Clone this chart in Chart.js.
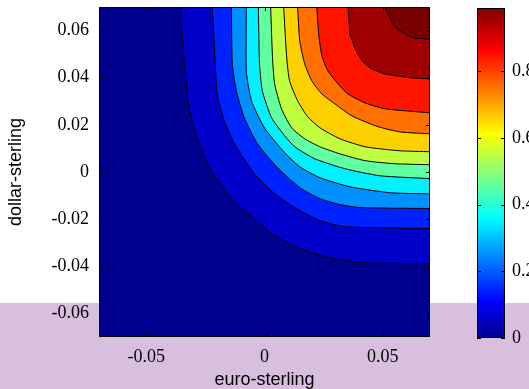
<!DOCTYPE html>
<html lang="en">
<head>
<meta charset="UTF-8">
<title>euro-sterling / dollar-sterling contour</title>
<script src="https://cdn.jsdelivr.net/npm/chart.js"></script>
<style>
  html, body { margin: 0; padding: 0; overflow: hidden; background: #fff; }
  body { width: 529px; height: 389px; position: relative; }
  #band { position: absolute; left: 0; top: 303px; width: 529px; height: 86px; background: #d8bfdd; }
  canvas { position: absolute; top: 0; }
  #contour { left: 0; }
  #cbar { left: 440px; }
</style>
</head>
<body>
<div id="band"></div>
<canvas id="contour" width="460" height="389"></canvas>
<canvas id="cbar" width="100" height="389"></canvas>
<script>
// contour lines, [euro-sterling, dollar-sterling], lowest level first
var level1 = [[-0.0353, 0.07], [-0.0349, 0.0586], [-0.0336, 0.0429], [-0.0319, 0.0272], [-0.0277, 0.0120],
              [-0.0226, 0.0006], [-0.0157, -0.0092], [-0.0072, -0.0177], [0.0043, -0.0270], [0.0170, -0.0334],
              [0.0298, -0.0368], [0.0417, -0.0385], [0.07, -0.0389]];
var level2 = [[-0.0221, 0.07], [-0.0213, 0.0556], [-0.0200, 0.0331], [-0.0170, 0.0217], [-0.0128, 0.0120],
              [-0.0043, -0.0007], [0.0043, -0.0092], [0.0149, -0.0164], [0.0234, -0.0206], [0.0340, -0.0232],
              [0.07, -0.0240]];
var level3 = [[-0.0140, 0.07], [-0.0136, 0.0459], [-0.0119, 0.0344], [-0.0085, 0.0229], [-0.0030, 0.0120],
              [0.0055, 0.0018], [0.0149, -0.0066], [0.0234, -0.0113], [0.0319, -0.0138], [0.0404, -0.0151],
              [0.07, -0.0155]];
var level4 = [[-0.0077, 0.07], [-0.0077, 0.0429], [-0.0055, 0.0302], [0.0000, 0.0187], [0.0085, 0.0082],
              [0.0149, 0.0022], [0.0234, -0.0024], [0.0362, -0.0063], [0.0532, -0.0088], [0.07, -0.0093]];
var level5 = [[-0.0026, 0.07], [-0.0021, 0.0459], [-0.0009, 0.0344], [0.0030, 0.0230], [0.0085, 0.0154],
              [0.0128, 0.0107], [0.0213, 0.0056], [0.0340, 0.0014], [0.0489, -0.0016], [0.07, -0.0028]];
var level6 = [[0.0026, 0.07], [0.0034, 0.0484], [0.0043, 0.0373], [0.0072, 0.0268], [0.0115, 0.0187],
              [0.0170, 0.0141], [0.0234, 0.0107], [0.0319, 0.0077], [0.0426, 0.0048], [0.0553, 0.0035],
              [0.07, 0.0031]];
var level7 = [[0.0081, 0.07], [0.0094, 0.0484], [0.0106, 0.0387], [0.0140, 0.0302], [0.0183, 0.0234],
              [0.0234, 0.0188], [0.0319, 0.0141], [0.0426, 0.0107], [0.0574, 0.0090], [0.07, 0.0086]];
var level8 = [[0.0140, 0.07], [0.0149, 0.0556], [0.0170, 0.0459], [0.0200, 0.0387], [0.0243, 0.0331],
              [0.0298, 0.0289], [0.0370, 0.0238], [0.0481, 0.0192], [0.0574, 0.0170], [0.07, 0.0162]];
var level9 = [[0.0221, 0.07], [0.0230, 0.0577], [0.0243, 0.0492], [0.0268, 0.0429], [0.0311, 0.0374],
              [0.0353, 0.0331], [0.0426, 0.0293], [0.0511, 0.0268], [0.07, 0.0251]];
var level10 = [[0.0353, 0.07], [0.0362, 0.0586], [0.0383, 0.0526], [0.0413, 0.0471], [0.0455, 0.0437],
               [0.0511, 0.0416], [0.0626, 0.0399], [0.07, 0.0395]];
var level11 = [[0.0511, 0.07], [0.0532, 0.0649], [0.0553, 0.0615], [0.0587, 0.0590], [0.0630, 0.0569],
               [0.07, 0.0564]];

var xRange = [-0.07, 0.07];
var yRange = [-0.07, 0.07];
var xTicks = [-0.05, 0, 0.05];
var xTickLabels = ['-0.05', '0', '0.05'];
var yTicks = [-0.06, -0.04, -0.02, 0, 0.02, 0.04, 0.06];
var yTickLabels = ['-0.06', '-0.04', '-0.02', '0', '0.02', '0.04', '0.06'];
var cbarRange = [0, 0.99];
var cbarTicks = [0, 0.2, 0.4, 0.6, 0.8];
var cbarTickLabels = ['0', '0.2', '0.4', '0.6', '0.8'];

// colours (jet)
var lowestBand = '#00008f';
var bandColors = ['#0000c8', '#0022ff', '#0090ff', '#00f0ff', '#60ffa0', '#c0ff40',
                  '#ffd000', '#ff7000', '#ff1400', '#a00000', '#780000'];
var jetStops = [[0, '#00008f'], [0.111, '#0000ff'], [0.365, '#00ffff'], [0.619, '#ffff00'],
                [0.873, '#ff0000'], [1, '#800000']];

var tickFont = { family: "'Liberation Serif', 'Times New Roman', serif", size: 18 };
var titleFont = { family: "'Liberation Sans', Arial, sans-serif", size: 18 };

Chart.defaults.color = '#000';

function inwardTicks(ctx, chart, scale, horizontal, len) {
    var a = chart.chartArea;
    scale.ticks.forEach(function (t) {
        var p = Math.round(scale.getPixelForValue(t.value)) + 0.5;
        if (horizontal) {
            ctx.moveTo(p, a.bottom); ctx.lineTo(p, a.bottom - len);
            ctx.moveTo(p, a.top); ctx.lineTo(p, a.top + len);
        } else {
            ctx.moveTo(a.left, p); ctx.lineTo(a.left + len, p);
            ctx.moveTo(a.right, p); ctx.lineTo(a.right - len, p);
        }
    });
}

var axesBox = {
    id: 'axesBox',
    beforeDatasetsDraw: function (chart) {
        var a = chart.chartArea, ctx = chart.ctx;
        if (chart.canvas.id === 'contour') {
            ctx.save();
            ctx.fillStyle = lowestBand;
            ctx.fillRect(a.left, a.top, a.right - a.left, a.bottom - a.top);
            ctx.restore();
        }
    },
    afterDatasetsDraw: function (chart) {
        var a = chart.chartArea, ctx = chart.ctx;
        ctx.save();
        ctx.strokeStyle = '#000';
        ctx.lineWidth = 1;
        ctx.beginPath();
        if (chart.canvas.id === 'contour') {
            inwardTicks(ctx, chart, chart.scales.x, true, 4);
        }
        inwardTicks(ctx, chart, chart.scales.y, false, 4);
        ctx.stroke();
        ctx.strokeRect(a.left + 0.5, a.top + 0.5, a.right - a.left - 1, a.bottom - a.top - 1);
        ctx.restore();
    }
};

var levels = [level1, level2, level3, level4, level5, level6, level7, level8, level9, level10, level11];

new Chart(document.getElementById('contour'), {
    type: 'line',
    data: {
        datasets: levels.map(function (pts, i) {
            return {
                data: pts.map(function (p) { return { x: p[0], y: p[1] }; }),
                backgroundColor: bandColors[i],
                borderColor: '#000',
                borderWidth: 1,
                pointRadius: 0,
                tension: 0.2,
                fill: 'end',
                order: levels.length - i
            };
        })
    },
    options: {
        responsive: false,
        animation: false,
        layout: { padding: { left: 0, top: 7, right: 30, bottom: 0 } },
        plugins: { legend: { display: false }, tooltip: { enabled: false } },
        scales: {
            x: {
                type: 'linear', min: xRange[0], max: xRange[1],
                grid: { display: false, drawTicks: false },
                border: { display: false },
                afterBuildTicks: function (s) { s.ticks = xTicks.map(function (v) { return { value: v }; }); },
                afterFit: function (s) { s.height = 52; s.paddingLeft = 0; s.paddingRight = 0; },
                ticks: {
                    font: tickFont, padding: 9, maxRotation: 0,
                    callback: function (v, i) { return xTickLabels[i]; }
                },
                title: { display: true, text: 'euro-sterling', font: titleFont, padding: { top: 0, bottom: -2 } }
            },
            y: {
                type: 'linear', min: yRange[0], max: yRange[1],
                grid: { display: false, drawTicks: false },
                border: { display: false },
                afterBuildTicks: function (s) { s.ticks = yTicks.map(function (v) { return { value: v }; }); },
                afterFit: function (s) { s.width = 99; s.paddingTop = 0; s.paddingBottom = 0; },
                ticks: {
                    font: tickFont, padding: 10,
                    callback: function (v, i) { return yTickLabels[i]; }
                },
                title: { display: true, text: 'dollar-sterling', font: titleFont, padding: { top: 5, bottom: 0 } }
            }
        }
    },
    plugins: [axesBox]
});

new Chart(document.getElementById('cbar'), {
    type: 'bar',
    data: {
        labels: [''],
        datasets: [{
            data: [cbarRange],
            barPercentage: 1,
            categoryPercentage: 1,
            borderWidth: 0,
            backgroundColor: function (c) {
                var a = c.chart.chartArea;
                if (!a) return lowestBand;
                var g = c.chart.ctx.createLinearGradient(0, a.bottom, 0, a.top);
                jetStops.forEach(function (s) { g.addColorStop(s[0], s[1]); });
                return g;
            }
        }]
    },
    options: {
        responsive: false,
        animation: false,
        layout: { padding: { left: 37, top: 8, right: 0, bottom: 51 } },
        plugins: { legend: { display: false }, tooltip: { enabled: false } },
        scales: {
            x: { display: false },
            y: {
                position: 'right', min: cbarRange[0], max: cbarRange[1],
                grid: { display: false, drawTicks: false },
                border: { display: false },
                afterBuildTicks: function (s) { s.ticks = cbarTicks.map(function (v) { return { value: v }; }); },
                afterFit: function (s) { s.width = 35; s.paddingTop = 0; s.paddingBottom = 0; },
                ticks: {
                    font: tickFont, padding: 7,
                    callback: function (v, i) { return cbarTickLabels[i]; }
                }
            }
        }
    },
    plugins: [axesBox]
});
</script>
</body>
</html>
